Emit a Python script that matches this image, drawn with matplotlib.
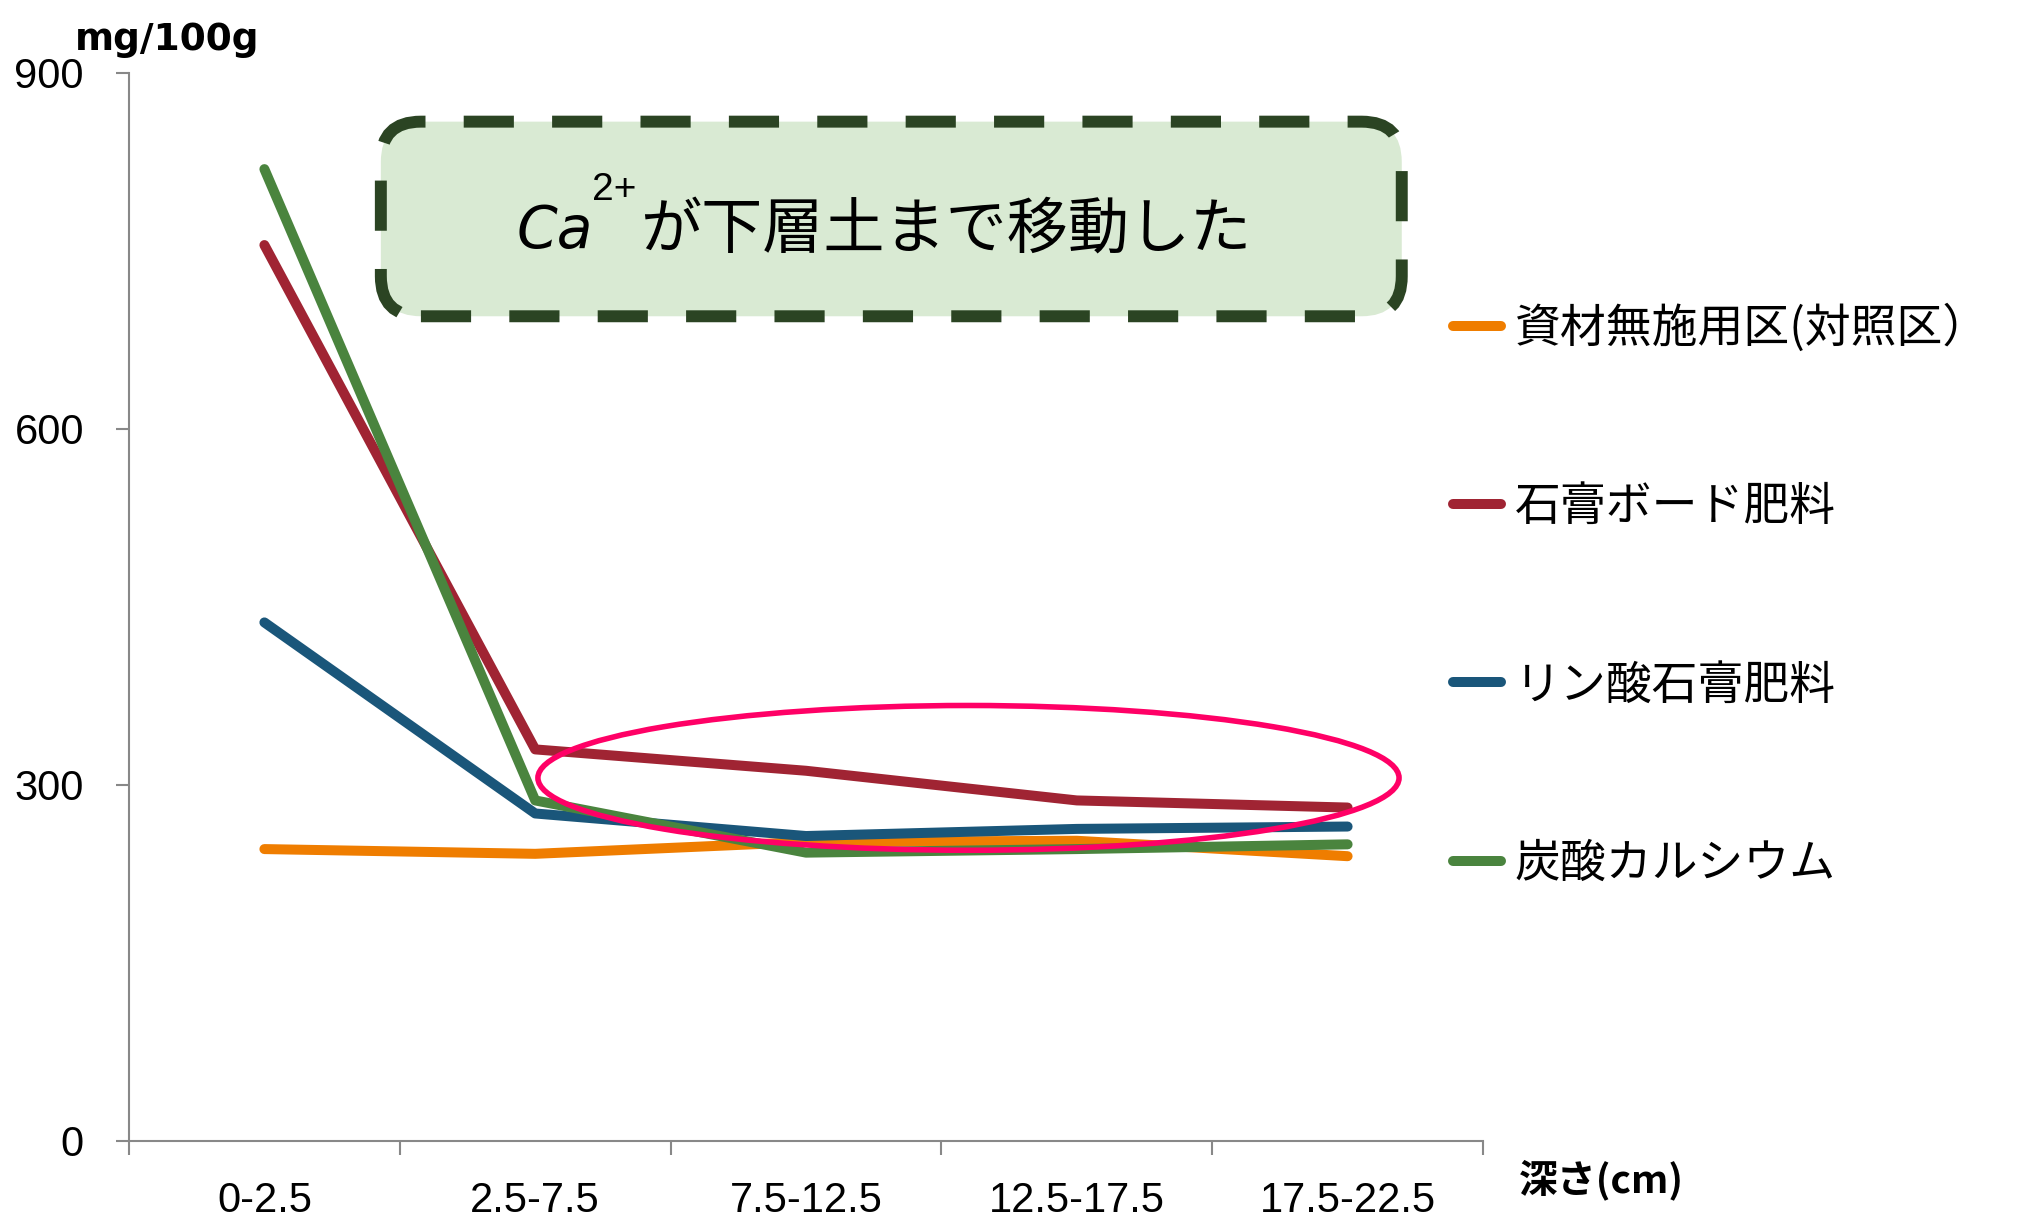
import numpy as np
import matplotlib
matplotlib.use("Agg")
import matplotlib.pyplot as plt
from matplotlib.patches import Ellipse, FancyBboxPatch

plt.rcParams['font.family'] = ['Noto Sans CJK JP', 'DejaVu Sans']

# soil depth classes (cm) and exchangeable Ca (mg/100g) per treatment
DEPTHS = ["0-2.5", "2.5-7.5", "7.5-12.5", "12.5-17.5", "17.5-22.5"]
SERIES = ["資材無施用区(対照区）", "石膏ボード肥料", "リン酸石膏肥料", "炭酸カルシウム"]
COLORS = ["#EF7D00", "#A02433", "#1A567A", "#4A843E"]

control = [246, 242, 252, 253, 240]
gypsum_board = [755, 330, 312, 287, 281]
phospho_gypsum = [437, 276, 257, 263, 265]
calcium_carbonate = [819, 287, 243, 246, 250]

W, H = 2018, 1220
fig = plt.figure(figsize=(W / 100, H / 100), dpi=100)
ax = fig.add_axes([129 / W, 79 / H, 1354 / W, 1068 / H])

x = np.arange(len(DEPTHS))
for vals, name, col in zip([control, gypsum_board, phospho_gypsum, calcium_carbonate], SERIES, COLORS):
    ax.plot(x, vals, color=col, lw=7.2, label=name,
            solid_capstyle='round', solid_joinstyle='round')

ax.set_xlim(-0.5, len(DEPTHS) - 0.5)
ax.set_ylim(0, 900)
ax.set_yticks([0, 300, 600, 900])
ax.set_yticklabels(["0", "300", "600", "900"], family='Liberation Sans', fontsize=30)
ax.set_xticks(np.arange(-0.5, len(DEPTHS), 1))
ax.set_xticklabels([])
ax.set_xticks(x, minor=True)
ax.set_xticklabels(DEPTHS, minor=True, family='Liberation Sans', fontsize=30)

for side in ['top', 'right']:
    ax.spines[side].set_visible(False)
for side in ['left', 'bottom']:
    ax.spines[side].set_color('#888888')
    ax.spines[side].set_linewidth(1.5)
ax.tick_params(axis='y', length=9.4, width=1.5, color='#888888', pad=23)
ax.tick_params(axis='x', which='major', length=10, width=1.5, color='#888888')
ax.tick_params(axis='x', which='minor', length=0, pad=29)

# red ring around the lower layers
ax.add_patch(Ellipse((2.60, 306), 3.18, 122, fill=False, edgecolor='#FF0066',
                     lw=4, zorder=4))

# dashed call-out box
box = FancyBboxPatch((0.43, 695), 4.20 - 0.43, 859 - 695,
                     boxstyle='round,pad=0,rounding_size=0.148', mutation_aspect=228,
                     facecolor='#D9EAD3', edgecolor='#2B4423', lw=8.6,
                     linestyle=(0, (4.2, 3.2)), zorder=3, clip_on=False)
ax.add_patch(box)

fig.text(517 / W, 1 - 248 / H, "Ca", fontsize=42, style='italic',
         family='DejaVu Sans', va='baseline')
fig.text(592 / W, 1 - 200 / H, "2+", fontsize=28, family='Liberation Sans', va='baseline')
fig.text(640 / W, 1 - 248 / H, "が下層土まで移動した", fontsize=44, va='baseline')

fig.text(75 / W, 1 - 50 / H, "mg/100g", fontsize=27, weight='bold',
         family='DejaVu Sans', va='baseline')
fig.text(1519 / W, 1 - 1180 / H, "深さ(cm)", fontsize=28, weight='bold', va='center')

ax.legend(loc='center left', bbox_to_anchor=(1453 / W, 1 - 596 / H),
          bbox_transform=fig.transFigure, frameon=False, fontsize=33,
          handlelength=1.05, handletextpad=0.3, labelspacing=2.83,
          borderpad=0, borderaxespad=0)

fig.savefig("out.png", dpi=100)
